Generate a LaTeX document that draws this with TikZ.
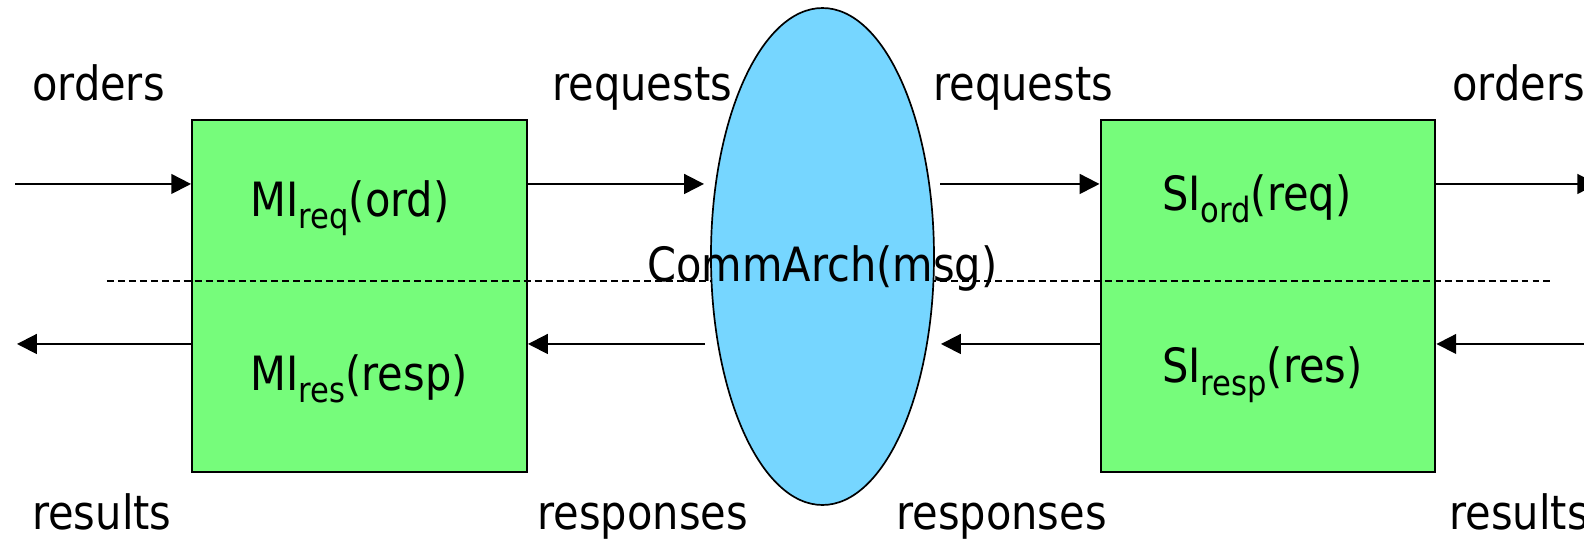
\documentclass[tikz,border=0pt]{standalone}
\usepackage{fontspec}
\setmainfont{DejaVu Sans}[FakeStretch=0.88]
\usepackage{tikz}
\usetikzlibrary{arrows.meta,shapes.geometric}

\definecolor{ifgreen}{RGB}{118,252,123}
\definecolor{archblue}{RGB}{118,214,255}
% lowered, smaller index text after MI / SI
\newcommand{\lowsub}[1]{\raisebox{-6pt}{\fontsize{16.5}{17}\selectfont #1}}

\begin{document}
\begin{tikzpicture}[
    font=\fontsize{22.4}{26}\selectfont,
    ifbox/.style={draw, line width=1pt, fill=ifgreen, minimum width=5.58cm,
                  minimum height=5.87cm, inner sep=0pt},
    flow/.style={line width=0.9pt, -{Triangle[length=3.3mm,width=3.3mm]}},
    lbl/.style={anchor=base west, inner sep=0pt},
  ]
  \useasboundingbox (0,0) rectangle (26.4,8.983);
  \clip (0,0) rectangle (26.4,8.983);

  % the two interface boxes
  \node[ifbox] (mi) at (5.992,4.05) {};
  \node[ifbox] (si) at (21.133,4.05) {};

  % dashed split between request and response side
  \coordinate (splitL) at (1.783,4.3);
  \coordinate (splitR) at (25.833,4.3);
  \draw[dashed, dash pattern=on 3.3pt off 1.9pt, line width=0.6pt] (splitL) -- (splitR);

  % communication architecture
  \node[ellipse, draw, line width=0.8pt, fill=archblue, minimum width=3.717cm,
        minimum height=8.283cm, inner sep=0pt] (comm) at (13.708,4.708) {};
  \node[anchor=base, inner sep=0pt] (commtxt) at ([yshift=-0.41cm]comm.center) {CommArch(msg)};

  % box texts
  \node[lbl] (mireq) at (4.17,5.383) {MI\lowsub{req}(ord)};
  \node[lbl] (mires) at (4.17,2.483) {MI\lowsub{res}(resp)};
  \node[lbl] (siord) at (19.36,5.483) {SI\lowsub{ord}(req)};
  \node[lbl] (siresp) at (19.36,2.6) {SI\lowsub{resp}(res)};

  % loose arrow ends
  \coordinate (inL)   at (0.25,5.917);
  \coordinate (outL)  at (0.283,3.25);
  \coordinate (toC)   at (11.733,5.917);
  \coordinate (fromC) at (11.75,3.25);
  \coordinate (leaveC) at (15.667,5.917);
  \coordinate (backC) at (15.683,3.25);
  \coordinate (outR)  at (26.62,5.917);
  \coordinate (inR)   at (26.8,3.25);

  % upper row: orders -> requests
  \draw[flow] (inL) -- (inL -| mi.west);
  \draw[flow] (mi.east |- toC) -- (toC);
  \draw[flow] (leaveC) -- (leaveC -| si.west);
  \draw[flow] (si.east |- outR) -- (outR);
  % lower row: responses -> results
  \draw[flow] (outL -| mi.west) -- (outL);
  \draw[flow] (fromC) -- (fromC -| mi.east);
  \draw[flow] (backC -| si.west) -- (backC);
  \draw[flow] (inR) -- (inR -| si.east);

  % flow names
  \node[lbl] (ordL) at (0.53,7.3) {orders};
  \node[lbl] (reqL) at (9.2,7.3) {requests};
  \node[lbl] (reqR) at (15.55,7.3) {requests};
  \node[lbl] (ordR) at (24.2,7.3) {orders};
  \node[lbl] (resL) at (0.53,0.15) {results};
  \node[lbl] (rspL) at (8.95,0.15) {responses};
  \node[lbl] (rspR) at (14.93,0.15) {responses};
  \node[lbl] (resR) at (24.15,0.15) {results};
\end{tikzpicture}
\end{document}
